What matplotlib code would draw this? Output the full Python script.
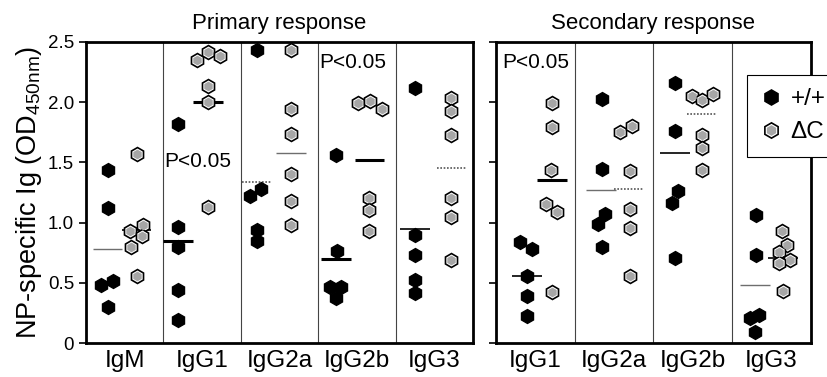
import matplotlib
matplotlib.use('Agg')
import matplotlib.pyplot as plt
from matplotlib.lines import Line2D
import numpy as np

plt.rcParams['font.family'] = ['Liberation Sans', 'DejaVu Sans']

# --- data ---
primary_classes = ['IgM', 'IgG1', 'IgG2a', 'IgG2b', 'IgG3']
secondary_classes = ['IgG1', 'IgG2a', 'IgG2b', 'IgG3']

primary_wt = [
    [1.436, 1.122, 0.483, 0.511, 0.303],
    [1.822, 0.961, 0.797, 0.442, 0.192],
    [2.436, 1.219, 1.275, 0.936, 0.844],
    [1.558, 0.761, 0.469, 0.469, 0.372],
    [2.114, 0.894, 0.728, 0.525, 0.414],
]
primary_dc = [
    [1.572, 0.928, 0.983, 0.886, 0.797, 0.553],
    [2.353, 2.419, 2.381, 2.136, 2.003, 1.131],
    [2.436, 1.942, 1.733, 1.400, 1.178, 0.983],
    [1.992, 2.011, 1.947, 1.206, 1.108, 0.928],
    [2.033, 1.928, 1.725, 1.206, 1.047, 0.692],
]
secondary_wt = [
    [0.839, 0.783, 0.553, 0.394, 0.228],
    [2.025, 1.447, 1.075, 0.992, 0.797],
    [2.158, 1.761, 1.261, 1.164, 0.706],
    [1.061, 0.733, 0.233, 0.206, 0.094],
]
secondary_dc = [
    [1.997, 1.797, 1.436, 1.158, 1.086, 0.422],
    [1.756, 1.803, 1.428, 1.114, 0.956, 0.558],
    [2.053, 2.019, 2.072, 1.725, 1.622, 1.436],
    [0.928, 0.817, 0.756, 0.686, 0.664, 0.436],
]

primary_wt_mean = [0.78, 0.85, 1.34, 0.70, 0.95]
primary_dc_mean = [0.94, 2.00, 1.575, 1.52, 1.45]
secondary_wt_mean = [0.56, 1.27, 1.575, 0.483]
secondary_dc_mean = [1.355, 1.275, 1.906, 0.706]

# horizontal scatter of points inside each column
primary_wt_dx = [
    [-0.22, -0.22, -0.30, -0.15, -0.22],
    [-0.31, -0.31, -0.31, -0.31, -0.31],
    [-0.29, -0.38, -0.24, -0.29, -0.29],
    [-0.27, -0.26, -0.35, -0.20, -0.27],
    [-0.25, -0.25, -0.25, -0.25, -0.25],
]
primary_dc_dx = [
    [0.16, 0.07, 0.23, 0.22, 0.08, 0.16],
    [-0.06, 0.08, 0.23, 0.07, 0.07, 0.07],
    [0.15, 0.15, 0.15, 0.15, 0.15, 0.15],
    [0.02, 0.17, 0.32, 0.16, 0.16, 0.16],
    [0.22, 0.22, 0.22, 0.22, 0.22, 0.22],
]
secondary_wt_dx = [
    [-0.20, -0.04, -0.10, -0.10, -0.10],
    [-0.16, -0.16, -0.12, -0.21, -0.16],
    [-0.23, -0.23, -0.19, -0.26, -0.23],
    [-0.20, -0.20, -0.16, -0.27, -0.21],
]
secondary_dc_dx = [
    [0.21, 0.21, 0.20, 0.14, 0.27, 0.21],
    [0.08, 0.23, 0.20, 0.20, 0.20, 0.20],
    [-0.01, 0.12, 0.25, 0.11, 0.11, 0.11],
    [0.13, 0.19, 0.09, 0.23, 0.10, 0.15],
]

# mean-line styles
styles = {
    'thick': dict(color='black', lw=2.2, ls='-'),
    'thin': dict(color='black', lw=1.2, ls='-'),
    'gray': dict(color='#6e6e6e', lw=1.0, ls='-'),
    'dot': dict(color='#555555', lw=1.2, ls=(0, (1, 1))),
}
primary_wt_style = ['gray', 'thick', 'dot', 'thick', 'thin']
primary_dc_style = ['thin', 'thick', 'gray', 'thick', 'dot']
secondary_wt_style = ['thin', 'gray', 'thin', 'gray']
secondary_dc_style = ['thick', 'dot', 'dot', 'thin']

MS = 10
INNER = 0.7
DC_GRAY = '#a6a6a6'


def draw_dc(ax, x, y):
    ax.plot(x, y, 'h', ms=MS, mfc='white', mec='black', mew=1.2, ls='none', zorder=4)
    ax.plot(x, y, 'h', ms=MS * INNER, mfc=DC_GRAY, mec='none', ls='none', zorder=5)


def panel(ax, classes, wt, wt_dx, dc, dc_dx, wt_mean, dc_mean, wt_style, dc_style):
    for i in range(len(classes)):
        xw = i + np.array(wt_dx[i])
        xd = i + np.array(dc_dx[i])
        cw = xw.mean()
        cd = xd.mean()
        ax.hlines(wt_mean[i], cw - 0.19, cw + 0.19, zorder=2, **styles[wt_style[i]])
        ax.hlines(dc_mean[i], cd - 0.19, cd + 0.19, zorder=2, **styles[dc_style[i]])
        ax.plot(xw, wt[i], 'h', ms=MS, color='black', ls='none', zorder=4)
        draw_dc(ax, xd, dc[i])
    for b in np.arange(0.5, len(classes) - 0.5, 1.0):
        ax.axvline(b, color='#444444', lw=0.8, zorder=1)
    ax.set_xlim(-0.5, len(classes) - 0.5)
    ax.set_ylim(0, 2.5)
    ax.set_xticks(range(len(classes)))
    ax.set_xticklabels(classes, fontsize=17.5)
    ax.tick_params(axis='x', length=0, pad=5)
    ax.tick_params(axis='y', direction='out', length=5, width=1.2, labelsize=13.5)
    ax.set_yticks([0, 0.5, 1.0, 1.5, 2.0, 2.5])
    for s in ax.spines.values():
        s.set_linewidth(2.0)


fig = plt.figure(figsize=(8.28, 3.77), dpi=100)
ax1 = fig.add_axes([86 / 828, 1 - 343 / 377, 387 / 828, 301 / 377])
ax2 = fig.add_axes([496 / 828, 1 - 343 / 377, 315 / 828, 301 / 377])

panel(ax1, primary_classes, primary_wt, primary_wt_dx, primary_dc, primary_dc_dx,
      primary_wt_mean, primary_dc_mean, primary_wt_style, primary_dc_style)
panel(ax2, secondary_classes, secondary_wt, secondary_wt_dx, secondary_dc, secondary_dc_dx,
      secondary_wt_mean, secondary_dc_mean, secondary_wt_style, secondary_dc_style)

ax1.set_yticklabels(['0', '0.5', '1.0', '1.5', '2.0', '2.5'])
ax2.set_yticklabels([])

ax1.set_title('Primary response', fontsize=16, pad=9)
ax2.set_title('Secondary response', fontsize=16, pad=9)
ax1.set_ylabel('NP-specific Ig (OD$_{\\mathregular{450nm}}$)', fontsize=19.5, labelpad=3)

ax1.text(0.95, 1.51, 'P<0.05', fontsize=15, ha='center', va='center')
ax1.text(2.95, 2.33, 'P<0.05', fontsize=15, ha='center', va='center')
ax2.text(0.0, 2.33, 'P<0.05', fontsize=15, ha='center', va='center')

h_wt = Line2D([], [], marker='h', ms=MS + 1, color='black', ls='none')
h_dc1 = Line2D([], [], marker='h', ms=MS + 1, mfc='white', mec='black', mew=1.2, ls='none')
h_dc2 = Line2D([], [], marker='h', ms=(MS + 1) * INNER, mfc=DC_GRAY, mec='none', ls='none')
leg = fig.legend([h_wt, (h_dc1, h_dc2)], ['+/+', '\u0394C'], loc='upper left',
                 bbox_to_anchor=(747 / 828, 1 - 75 / 377), fontsize=17.5,
                 frameon=True, fancybox=False, edgecolor='black', framealpha=1,
                 handletextpad=0.35, borderpad=0.55, labelspacing=0.45, handlelength=0.9,
                 borderaxespad=0)
leg.get_frame().set_linewidth(0.8)

fig.savefig('out.png', dpi=100)
